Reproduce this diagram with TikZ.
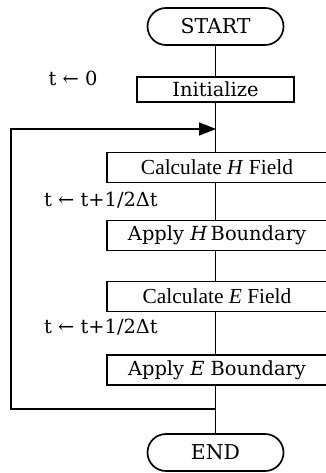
\documentclass[tikz,border=0pt]{standalone}
\usepackage{fontspec}
\usetikzlibrary{arrows.meta,shapes.misc}
\newfontfamily\timesfont{Liberation Serif}
\newfontfamily\centfont{DejaVu Serif}
\begin{document}
\begin{tikzpicture}[x=1bp,y=-1bp,
  every node/.style={inner sep=0pt, outer sep=0pt},
  line/.style={line width=1.7bp},
  pill/.style={line, draw, rounded rectangle, minimum width=136bp, minimum height=37bp, font=\centfont\fontsize{20.5}{26}\selectfont},
  procbox/.style={line, draw, rectangle, minimum height=30bp, font=\centfont\fontsize{19.5}{26}\selectfont},
  timesbox/.style={procbox, font=\timesfont\fontsize{21.5}{26}\selectfont},
  lbl/.style={font=\centfont\fontsize{19.5}{26}\selectfont}
]
\useasboundingbox (0,0) rectangle (325,473);
\node[pill] (start) at (215.5,26.5) {START};
\node[procbox, minimum width=157bp, minimum height=25bp] (init) at (215.5,89.5) {Initialize};
\node[timesbox, minimum width=220bp] (calcH) at (217,167.5) {Calculate \textit{H} Field};
\node[procbox, minimum width=220bp] (applyH) at (217,235.5) {Apply \textit{H}\,Boundary};
\node[timesbox, minimum width=220bp] (calcE) at (217,296.5) {Calculate \textit{E} Field};
\node[procbox, minimum width=220bp] (applyE) at (217,370) {Apply \textit{E} Boundary};
\node[pill] (end) at (215.5,452.5) {END};

\node[lbl] (t0) at (73,78) {t ← 0};
\node[lbl] (th1) at (101,200) {t ← t+1/2Δt};
\node[lbl] (th2) at (101,327) {t ← t+1/2Δt};

\coordinate (loopT) at (215.5,129);
\coordinate (loopB) at (215.5,409);
\coordinate (cornerBL) at (11,409);

\draw[line] (start.south) -- (init.north);
\draw[line] (init.south) -- (init.south |- calcH.north);
\draw[line] (init.south |- calcH.south) -- (init.south |- applyH.north);
\draw[line] (init.south |- applyH.south) -- (init.south |- calcE.north);
\draw[line] (init.south |- calcE.south) -- (init.south |- applyE.north);
\draw[line] (init.south |- applyE.south) -- (end.north);
\draw[line, -{Triangle[length=17bp,width=13bp]}, shorten >=-0.5bp] (loopB) -- (cornerBL) |- (loopT);
\end{tikzpicture}
\end{document}
